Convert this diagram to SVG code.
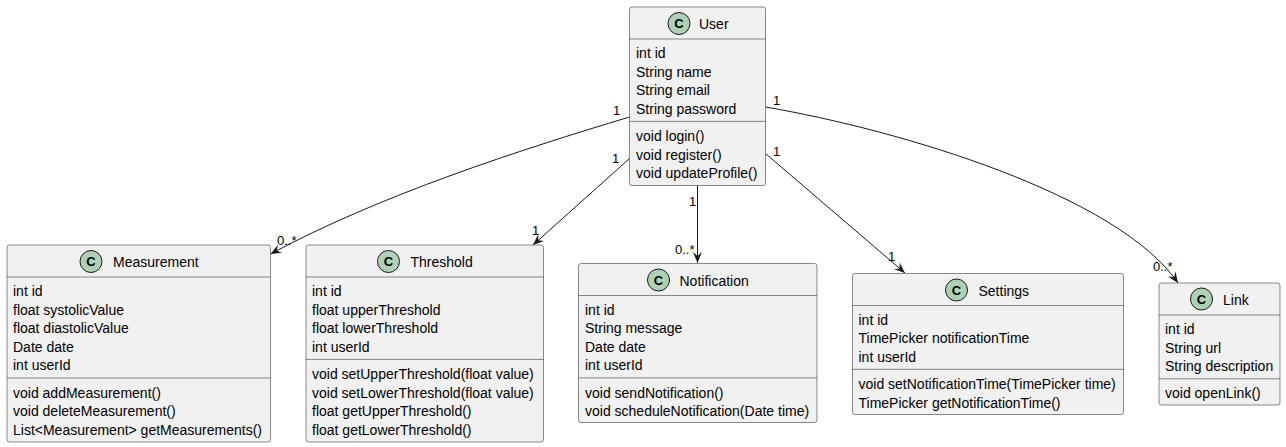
<svg xmlns="http://www.w3.org/2000/svg" width="1286" height="447" viewBox="0 0 1286 447">
<defs>
<marker id="arr" viewBox="0 0 11 9" refX="11" refY="4.5" markerWidth="11" markerHeight="9" markerUnits="userSpaceOnUse" orient="auto">
<path d="M0,0 L11,4.5 L0,9 L4,4.5 Z" fill="#181818"/>
</marker>
</defs>
<style>
.box{fill:#F1F1F1;stroke:#181818;stroke-width:0.5}
.sep{stroke:#181818;stroke-width:0.5}
.ic{fill:#ADD1B2;stroke:#181818;stroke-width:1}
.icl{font-family:"Liberation Sans",Arial,sans-serif;font-size:13px;font-weight:bold;fill:#000;text-anchor:middle}
.nm{font-family:"Liberation Sans",Arial,sans-serif;font-size:14px;fill:#000}
.m{font-family:"Liberation Sans",Arial,sans-serif;font-size:14px;fill:#000}
.lb{font-family:"Liberation Sans",Arial,sans-serif;font-size:13px;fill:#000}
.ln{fill:none;stroke:#181818;stroke-width:1;marker-end:url(#arr)}
</style>
<rect width="1286" height="447" fill="#FFFFFF"/>

<g id="connectors">
<path class="ln" d="M629.5,117 C520,150 380,195 270.5,254"/>
<path class="ln" d="M629.5,158.5 L533,245"/>
<path class="ln" d="M697.5,185.5 L697.5,263"/>
<path class="ln" d="M765.5,153.5 L905,273"/>
<path class="ln" d="M765.5,107 C900,130 1118,195 1178,283"/>
<text class="lb" x="613" y="115">1</text>
<text class="lb" x="277" y="245">0..*</text>
<text class="lb" x="612" y="163">1</text>
<text class="lb" x="532" y="235">1</text>
<text class="lb" x="689" y="206">1</text>
<text class="lb" x="675" y="254">0..*</text>
<text class="lb" x="773" y="156">1</text>
<text class="lb" x="888" y="261">1</text>
<text class="lb" x="773" y="105">1</text>
<text class="lb" x="1153" y="271">0..*</text>
</g>

<g id="User">
<rect class="box" x="629.5" y="7" width="136" height="178.5" rx="2.5"/>
<circle class="ic" cx="679" cy="23.5" r="11"/>
<text class="icl" x="679" y="28.3">C</text>
<text class="nm" x="699" y="29">User</text>
<line class="sep" x1="629.5" y1="39" x2="765.5" y2="39"/>
<text class="m" x="636" y="58">int id</text>
<text class="m" x="636" y="76.6">String name</text>
<text class="m" x="636" y="95.2">String email</text>
<text class="m" x="636" y="113.8">String password</text>
<line class="sep" x1="629.5" y1="121.4" x2="765.5" y2="121.4"/>
<text class="m" x="636" y="141">void login()</text>
<text class="m" x="636" y="159.6">void register()</text>
<text class="m" x="636" y="178.2">void updateProfile()</text>
</g>

<g id="Measurement">
<rect class="box" x="7" y="245" width="263.5" height="197" rx="2.5"/>
<circle class="ic" cx="91" cy="261.5" r="11"/>
<text class="icl" x="91" y="266.3">C</text>
<text class="nm" x="113" y="267">Measurement</text>
<line class="sep" x1="7" y1="277" x2="270.5" y2="277"/>
<text class="m" x="13" y="296">int id</text>
<text class="m" x="13" y="314.6">float systolicValue</text>
<text class="m" x="13" y="333.2">float diastolicValue</text>
<text class="m" x="13" y="351.8">Date date</text>
<text class="m" x="13" y="370.4">int userId</text>
<line class="sep" x1="7" y1="378" x2="270.5" y2="378"/>
<text class="m" x="13" y="397.6">void addMeasurement()</text>
<text class="m" x="13" y="416.2">void deleteMeasurement()</text>
<text class="m" x="13" y="434.8">List&lt;Measurement&gt; getMeasurements()</text>
</g>

<g id="Threshold">
<rect class="box" x="306" y="245" width="237.5" height="197" rx="2.5"/>
<circle class="ic" cx="388.5" cy="261.5" r="11"/>
<text class="icl" x="388.5" y="266.3">C</text>
<text class="nm" x="410.5" y="267">Threshold</text>
<line class="sep" x1="306" y1="277" x2="543.5" y2="277"/>
<text class="m" x="312" y="296">int id</text>
<text class="m" x="312" y="314.6">float upperThreshold</text>
<text class="m" x="312" y="333.2">float lowerThreshold</text>
<text class="m" x="312" y="351.8">int userId</text>
<line class="sep" x1="306" y1="359.4" x2="543.5" y2="359.4"/>
<text class="m" x="312" y="379">void setUpperThreshold(float value)</text>
<text class="m" x="312" y="397.6">void setLowerThreshold(float value)</text>
<text class="m" x="312" y="416.2">float getUpperThreshold()</text>
<text class="m" x="312" y="434.8">float getLowerThreshold()</text>
</g>

<g id="Notification">
<rect class="box" x="578.5" y="263.5" width="238.5" height="159" rx="2.5"/>
<circle class="ic" cx="658.5" cy="280" r="11"/>
<text class="icl" x="658.5" y="284.8">C</text>
<text class="nm" x="679.5" y="285.5">Notification</text>
<line class="sep" x1="578.5" y1="295.5" x2="817" y2="295.5"/>
<text class="m" x="585" y="314.5">int id</text>
<text class="m" x="585" y="333.1">String message</text>
<text class="m" x="585" y="351.7">Date date</text>
<text class="m" x="585" y="370.3">int userId</text>
<line class="sep" x1="578.5" y1="377.9" x2="817" y2="377.9"/>
<text class="m" x="585" y="397.5">void sendNotification()</text>
<text class="m" x="585" y="416.1">void scheduleNotification(Date time)</text>
</g>

<g id="Settings">
<rect class="box" x="852.5" y="273.5" width="271" height="141" rx="2.5"/>
<circle class="ic" cx="956.5" cy="290" r="11"/>
<text class="icl" x="956.5" y="294.8">C</text>
<text class="nm" x="978.5" y="295.5">Settings</text>
<line class="sep" x1="852.5" y1="305.5" x2="1123.5" y2="305.5"/>
<text class="m" x="858.5" y="324.5">int id</text>
<text class="m" x="858.5" y="343.1">TimePicker notificationTime</text>
<text class="m" x="858.5" y="361.7">int userId</text>
<line class="sep" x1="852.5" y1="369.3" x2="1123.5" y2="369.3"/>
<text class="m" x="858.5" y="388.9">void setNotificationTime(TimePicker time)</text>
<text class="m" x="858.5" y="407.5">TimePicker getNotificationTime()</text>
</g>

<g id="Link">
<rect class="box" x="1159" y="283" width="121" height="122" rx="2.5"/>
<circle class="ic" cx="1201.5" cy="299" r="11"/>
<text class="icl" x="1201.5" y="303.8">C</text>
<text class="nm" x="1223" y="305">Link</text>
<line class="sep" x1="1159" y1="315" x2="1280" y2="315"/>
<text class="m" x="1165" y="334">int id</text>
<text class="m" x="1165" y="352.6">String url</text>
<text class="m" x="1165" y="371.2">String description</text>
<line class="sep" x1="1159" y1="378.8" x2="1280" y2="378.8"/>
<text class="m" x="1165" y="398.4">void openLink()</text>
</g>
</svg>
